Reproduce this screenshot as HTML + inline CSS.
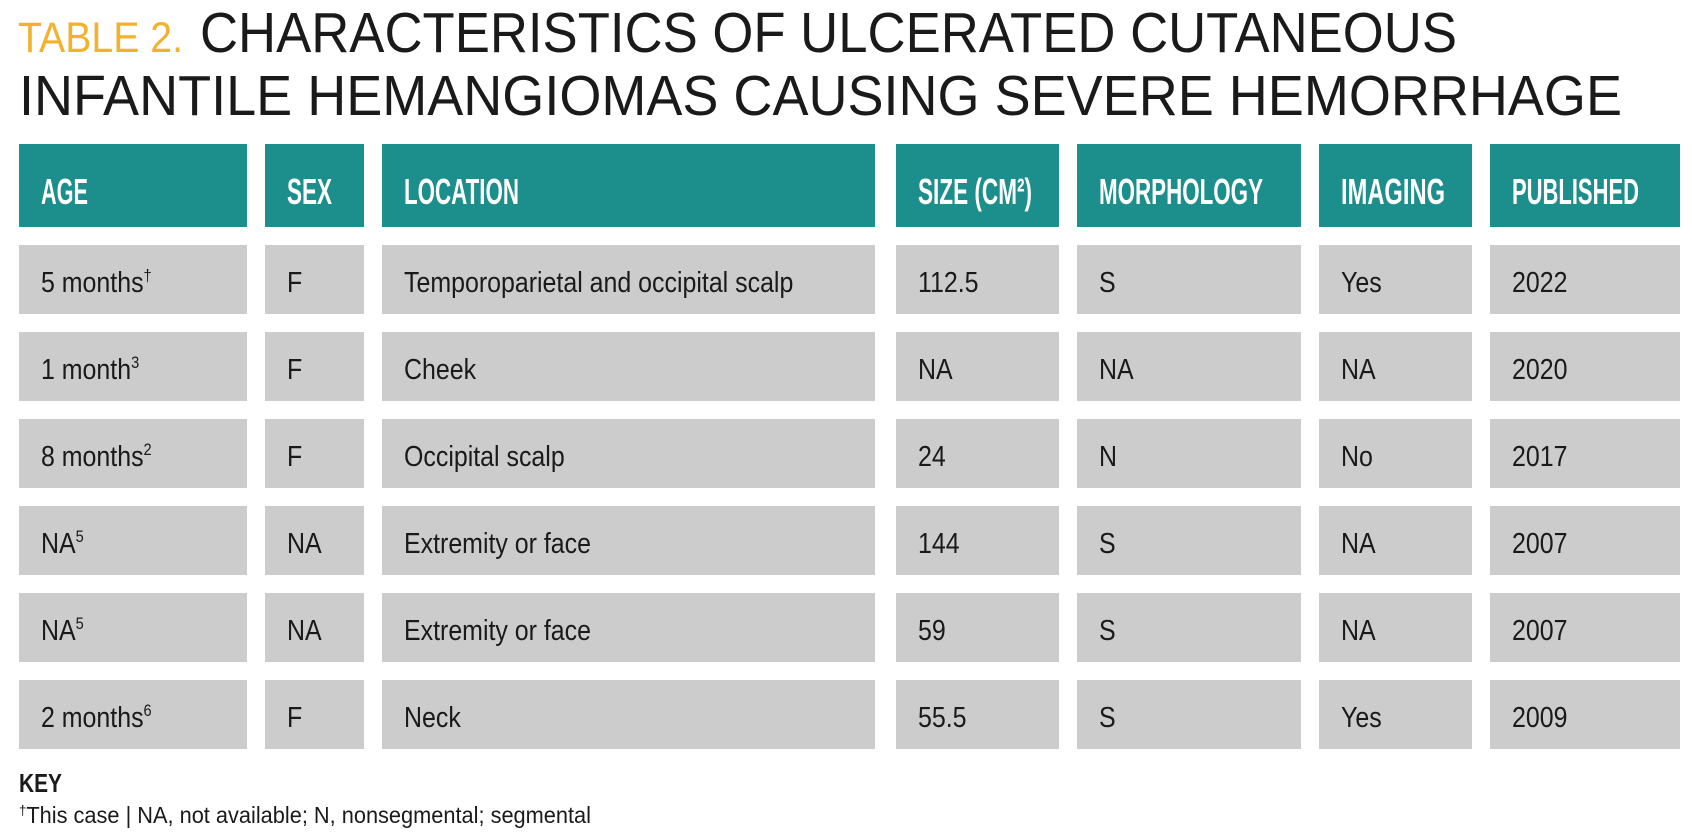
<!DOCTYPE html>
<html><head><meta charset="utf-8">
<style>
html,body{margin:0;padding:0;background:#fff;}
svg{display:block;}
.t{font-family:"Liberation Sans",sans-serif;}
</style></head>
<body>
<svg width="1692" height="838" viewBox="0 0 1692 838" xmlns="http://www.w3.org/2000/svg">
  <g>
    <text class="t" x="18" y="52" font-size="43" fill="#f2b22e" textLength="165" lengthAdjust="spacingAndGlyphs">TABLE 2.</text>
    <text class="t" x="200" y="52" font-size="57" fill="#1a1a1a" textLength="1257" lengthAdjust="spacingAndGlyphs">CHARACTERISTICS OF ULCERATED CUTANEOUS</text>
    <text class="t" x="19" y="115" font-size="57" fill="#1a1a1a" textLength="1603" lengthAdjust="spacingAndGlyphs">INFANTILE HEMANGIOMAS CAUSING SEVERE HEMORRHAGE</text>
  </g>
  <g id="tbl"></g>
  <text class="t" x="19" y="792" font-size="26" font-weight="bold" fill="#1a1a1a" textLength="43" lengthAdjust="spacingAndGlyphs">KEY</text>
  <text class="t" x="19" y="823" font-size="23" fill="#1a1a1a" textLength="572" lengthAdjust="spacingAndGlyphs"><tspan font-size="14" dy="-8">†</tspan><tspan dy="8">This case | NA, not available; N, nonsegmental; segmental</tspan></text>
</svg>
<script>
const colL=[19,265,382,896,1077,1319,1490];
const colR=[247,364,875,1059,1301,1472,1680];
const headers=["AGE","SEX","LOCATION","SIZE (CM²)","MORPHOLOGY","IMAGING","PUBLISHED"];
const headW=[47,45,115,114,164,104,127];
const rows=[
 [["5 months","†"],["F"],["Temporoparietal and occipital scalp"],["112.5"],["S"],["Yes"],["2022"]],
 [["1 month","3"],["F"],["Cheek"],["NA"],["NA"],["NA"],["2020"]],
 [["8 months","2"],["F"],["Occipital scalp"],["24"],["N"],["No"],["2017"]],
 [["NA","5"],["NA"],["Extremity or face"],["144"],["S"],["NA"],["2007"]],
 [["NA","5"],["NA"],["Extremity or face"],["59"],["S"],["NA"],["2007"]],
 [["2 months","6"],["F"],["Neck"],["55.5"],["S"],["Yes"],["2009"]]
];
const NS="http://www.w3.org/2000/svg";
const g=document.getElementById('tbl');
function mk(tag,attrs){const e=document.createElementNS(NS,tag);for(const k in attrs)e.setAttribute(k,attrs[k]);return e;}
// header
headers.forEach((h,i)=>{
  const r=mk('rect',{x:colL[i],y:144,width:colR[i]-colL[i],height:83,fill:'#1c8f8c'});
  
  
  g.appendChild(r);
  const t=mk('text',{x:colL[i]+22,y:204,'font-size':36,'font-weight':'bold',fill:'#fff','class':'t',textLength:headW[i],lengthAdjust:'spacingAndGlyphs'});
  
  
  t.textContent=h;
  g.appendChild(t);
});
// body
rows.forEach((row,ri)=>{
  const y=245+ri*87;
  row.forEach((cell,ci)=>{
    const r=mk('rect',{x:colL[ci],y:y,width:colR[ci]-colL[ci],height:69,fill:'#cccccc'});
    
    
    g.appendChild(r);
    const t=mk('text',{'class':'t','font-size':29,fill:'#1a1a1a',transform:`translate(${colL[ci]+22},${y+47}) scale(0.86,1)`});
    
    
    t.appendChild(document.createTextNode(cell[0]));
    if(cell[1]){const s=mk('tspan',{'font-size':17,dy:-11});s.textContent=cell[1];t.appendChild(s);}
    g.appendChild(t);
  });
});
</script>
</body></html>
